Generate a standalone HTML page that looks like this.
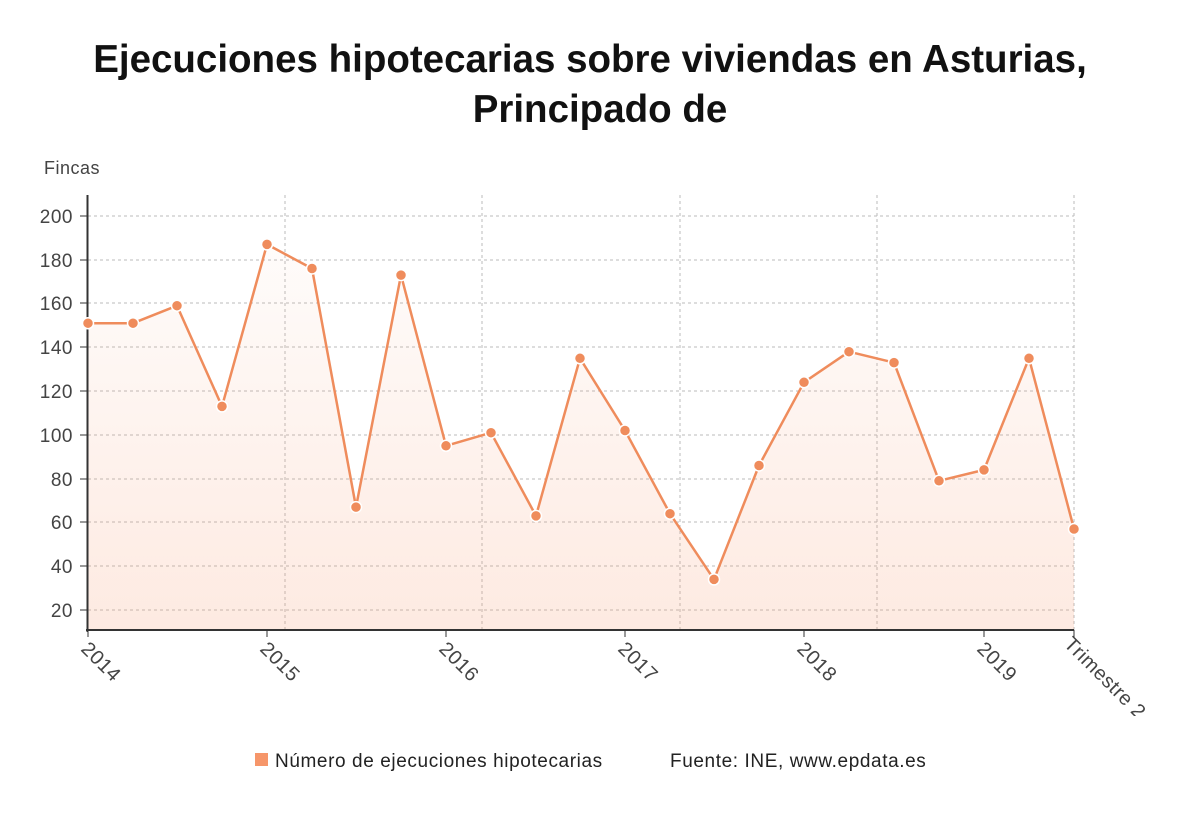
<!DOCTYPE html>
<html><head><meta charset="utf-8"><style>
body{margin:0;background:#fff;width:1200px;height:808px;overflow:hidden;font-family:"Liberation Sans",sans-serif}
</style></head><body>
<svg width="1200" height="808" xmlns="http://www.w3.org/2000/svg" font-family="Liberation Sans, sans-serif">
<defs><linearGradient id="g" x1="0" y1="0" x2="0" y2="1"><stop offset="0" stop-color="#f6966a" stop-opacity="0.03"/><stop offset="1" stop-color="#f6966a" stop-opacity="0.2"/></linearGradient></defs>
<text x="590" y="72" text-anchor="middle" font-size="38.5" font-weight="bold" fill="#111">Ejecuciones hipotecarias sobre viviendas en Asturias,</text>
<text x="600" y="122" text-anchor="middle" font-size="38.5" font-weight="bold" fill="#111">Principado de</text>
<text x="44" y="174" font-size="18" fill="#444" letter-spacing="0.5">Fincas</text>
<g stroke="#bbb" stroke-dasharray="3,3" stroke-width="1">
<line x1="88" x2="1074" y1="216" y2="216"/><line x1="88" x2="1074" y1="260" y2="260"/><line x1="88" x2="1074" y1="303" y2="303"/><line x1="88" x2="1074" y1="347" y2="347"/><line x1="88" x2="1074" y1="391" y2="391"/><line x1="88" x2="1074" y1="435" y2="435"/><line x1="88" x2="1074" y1="479" y2="479"/><line x1="88" x2="1074" y1="522" y2="522"/><line x1="88" x2="1074" y1="566" y2="566"/><line x1="88" x2="1074" y1="610" y2="610"/>
<line x1="285" x2="285" y1="195" y2="630"/><line x1="482" x2="482" y1="195" y2="630"/><line x1="680" x2="680" y1="195" y2="630"/><line x1="877" x2="877" y1="195" y2="630"/><line x1="1074" x2="1074" y1="195" y2="630"/>
</g>
<g font-size="19" fill="#444" text-anchor="end" letter-spacing="0.5">
<text x="73" y="223">200</text><text x="73" y="267">180</text><text x="73" y="310">160</text><text x="73" y="354">140</text><text x="73" y="398">120</text><text x="73" y="442">100</text><text x="73" y="486">80</text><text x="73" y="529">60</text><text x="73" y="573">40</text><text x="73" y="617">20</text>
</g>
<g stroke="#333"><line x1="80" x2="88" y1="216" y2="216"/><line x1="80" x2="88" y1="260" y2="260"/><line x1="80" x2="88" y1="303" y2="303"/><line x1="80" x2="88" y1="347" y2="347"/><line x1="80" x2="88" y1="391" y2="391"/><line x1="80" x2="88" y1="435" y2="435"/><line x1="80" x2="88" y1="479" y2="479"/><line x1="80" x2="88" y1="522" y2="522"/><line x1="80" x2="88" y1="566" y2="566"/><line x1="80" x2="88" y1="610" y2="610"/></g>
<polygon fill="url(#g)" points="88,630 88,323.2 133,323.2 177,305.7 222,406.4 267,244.4 312,268.5 356,507.1 401,275.1 446,445.8 491,432.7 536,515.9 580,358.3 625,430.5 670,513.7 714,579.4 759,465.5 804,382.3 849,351.7 894,362.6 939,480.8 984,469.9 1029,358.3 1074,529 1074,630"/>
<line x1="87.5" x2="87.5" y1="195" y2="632" stroke="#333" stroke-width="2"/>
<line x1="86" x2="1074" y1="630" y2="630" stroke="#333" stroke-width="2"/>
<g stroke="#333"><line x1="88" x2="88" y1="630" y2="637"/><line x1="267" x2="267" y1="630" y2="637"/><line x1="446" x2="446" y1="630" y2="637"/><line x1="625" x2="625" y1="630" y2="637"/><line x1="804" x2="804" y1="630" y2="637"/><line x1="984" x2="984" y1="630" y2="637"/><line x1="1074" x2="1074" y1="630" y2="637"/></g>
<polyline fill="none" stroke="#ef8c5c" stroke-width="2.5" stroke-linejoin="round" points="88,323.2 133,323.2 177,305.7 222,406.4 267,244.4 312,268.5 356,507.1 401,275.1 446,445.8 491,432.7 536,515.9 580,358.3 625,430.5 670,513.7 714,579.4 759,465.5 804,382.3 849,351.7 894,362.6 939,480.8 984,469.9 1029,358.3 1074,529"/>
<g fill="#ef8c5c" stroke="#fff" stroke-width="1.5">
<circle cx="88" cy="323.2" r="5.5"/><circle cx="133" cy="323.2" r="5.5"/><circle cx="177" cy="305.7" r="5.5"/><circle cx="222" cy="406.4" r="5.5"/><circle cx="267" cy="244.4" r="5.5"/><circle cx="312" cy="268.5" r="5.5"/><circle cx="356" cy="507.1" r="5.5"/><circle cx="401" cy="275.1" r="5.5"/><circle cx="446" cy="445.8" r="5.5"/><circle cx="491" cy="432.7" r="5.5"/><circle cx="536" cy="515.9" r="5.5"/><circle cx="580" cy="358.3" r="5.5"/><circle cx="625" cy="430.5" r="5.5"/><circle cx="670" cy="513.7" r="5.5"/><circle cx="714" cy="579.4" r="5.5"/><circle cx="759" cy="465.5" r="5.5"/><circle cx="804" cy="382.3" r="5.5"/><circle cx="849" cy="351.7" r="5.5"/><circle cx="894" cy="362.6" r="5.5"/><circle cx="939" cy="480.8" r="5.5"/><circle cx="984" cy="469.9" r="5.5"/><circle cx="1029" cy="358.3" r="5.5"/><circle cx="1074" cy="529" r="5.5"/>
</g>
<g font-size="20" fill="#444" letter-spacing="0.5">
<text transform="translate(80,650) rotate(45)">2014</text>
<text transform="translate(259,650) rotate(45)">2015</text>
<text transform="translate(438,650) rotate(45)">2016</text>
<text transform="translate(617,650) rotate(45)">2017</text>
<text transform="translate(796,650) rotate(45)">2018</text>
<text transform="translate(976,650) rotate(45)">2019</text>
<text transform="translate(1063,645) rotate(45)">Trimestre 2</text>
</g>
<rect x="0" y="716" width="1200" height="92" fill="#fff"/>
<rect x="255" y="753" width="13" height="13" fill="#f6966a"/>
<text x="275" y="767" font-size="19" fill="#222" letter-spacing="0.6">Número de ejecuciones hipotecarias</text>
<text x="670" y="767" font-size="19" fill="#222" letter-spacing="0.6">Fuente: INE, www.epdata.es</text>
</svg>
</body></html>
